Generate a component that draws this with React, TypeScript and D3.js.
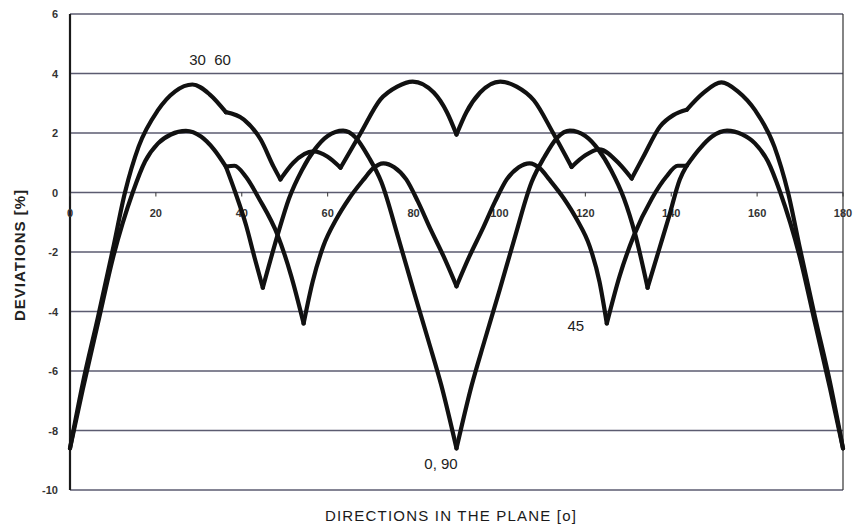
import React, { useEffect, useRef } from "react";
import * as d3 from "d3";

const xTicks = [0, 20, 40, 60, 80, 100, 120, 140, 160, 180];
const yTicks = [6, 4, 2, 0, -2, -4, -6, -8, -10];

// curves are stored as arches [deg, %] split at cusps / kinks
const curve3060 = [
  [[0, -8.6], [3, -6.4], [6.5, -4.2], [10, -1.9], [12.8, 0], [16, 1.55], [20.4, 2.75], [24.5, 3.4], [28.5, 3.63], [32.5, 3.3], [36.3, 2.7]],
  [[36.3, 2.7], [40.5, 2.45], [44.4, 1.78], [47.4, 0.87], [49, 0.44]],
  [[49, 0.44], [52, 1.0], [56.7, 1.38], [60, 1.2], [63, 0.83]],
  [[63, 0.83], [67.7, 2.0], [72.3, 3.13], [76.2, 3.56], [79.8, 3.73], [84.7, 3.36], [87.8, 2.69], [90, 1.95]],
  [[90, 1.95], [92.3, 2.7], [95.5, 3.36], [100.2, 3.73], [104, 3.56], [108, 3.1], [112.5, 2.0], [116.8, 0.86]],
  [[116.8, 0.86], [120, 1.25], [123.2, 1.45], [128, 0.95], [130.8, 0.47]],
  [[130.8, 0.47], [133.5, 1.2], [137.4, 2.22], [140.5, 2.6], [143.6, 2.78]],
  [[143.6, 2.78], [147.5, 3.35], [151.7, 3.7], [155.5, 3.4], [159.6, 2.75], [164, 1.55], [167.2, 0], [170, -1.9], [173.5, -4.2], [177, -6.4], [180, -8.6]],
];

const curve0090 = [
  [[0, -8.6], [3, -6.6], [6.5, -4.4], [10, -2.2], [14.6, 0], [17.5, 1.05], [20.5, 1.65], [23.5, 1.95], [27, 2.07], [30.5, 1.88], [33.5, 1.45], [36.3, 0.87]],
  [[36.3, 0.87], [38.5, 0.0], [41, -1.1], [43, -2.2], [44.9, -3.2]],
  [[44.9, -3.2], [48.4, -1.4], [51, -0.2], [54, 0.75], [57, 1.45], [60, 1.9], [63.6, 2.08], [66.5, 1.85], [69.5, 1.2], [72.5, 0.35], [76.5, -1.55], [80, -3.3], [83.5, -5.0], [86.5, -6.5], [90, -8.6]],
  [[90, -8.6], [93.5, -6.5], [96.5, -5.0], [100, -3.3], [103.5, -1.55], [107.5, 0.35], [110.5, 1.2], [113.5, 1.85], [116.4, 2.08], [120, 1.9], [123, 1.45], [126, 0.75], [129, -0.2], [131.6, -1.4], [134.5, -3.2]],
  [[134.5, -3.2], [137, -2.0], [139.5, -0.8], [142, 0.44], [143.6, 0.9]],
  [[143.6, 0.9], [146.5, 1.45], [149.5, 1.88], [153, 2.08], [156.5, 1.95], [159.5, 1.65], [162.5, 1.05], [165.4, 0], [170, -2.2], [173.5, -4.4], [177, -6.6], [180, -8.6]],
];

// the 45 curve follows the 0,90 curve outside 36..144
const curve45 = [
  [[36.3, 0.87], [38.3, 0.9], [41, 0.52], [44, -0.2], [48.4, -1.45], [51.5, -2.8], [54.4, -4.4]],
  [[54.4, -4.4], [56.5, -3.0], [59, -1.8], [62, -0.9], [65, -0.2], [68.4, 0.44], [70.5, 0.8], [73, 0.98], [75.5, 0.85], [78.3, 0.44], [81, -0.3], [84, -1.25], [87, -2.15], [90, -3.15]],
  [[90, -3.15], [93, -2.15], [96, -1.25], [99, -0.3], [101.7, 0.44], [104.5, 0.85], [107, 0.98], [109.5, 0.8], [111.6, 0.44], [115, -0.2], [118, -0.9], [121, -1.8], [123.3, -3.0], [125, -4.4]],
  [[125, -4.4], [128, -2.8], [131.3, -1.45], [135.5, -0.2], [138.8, 0.52], [141.5, 0.9], [143.6, 0.9]],
];

const curveNames = ["30  60", "45", "0, 90"];
const labelDeg = [32.6, 117.8, 86.4];
const labelVal = [4.44, -4.5, -9.14];

const App = () => {
  const svgRef = useRef(null);

  useEffect(() => {
    const svg = d3.select(svgRef.current);
    svg.selectAll("*").remove();

    const x = d3.scaleLinear().domain([0, 180]).range([70, 843]);
    const y = d3.scaleLinear().domain([-10, 6]).range([490, 14]);
    const font = "'Liberation Sans', Arial, sans-serif";

    // horizontal grid
    svg
      .append("g")
      .selectAll("line")
      .data(yTicks)
      .enter()
      .append("line")
      .attr("x1", x(0))
      .attr("x2", x(180))
      .attr("y1", (d) => y(d))
      .attr("y2", (d) => y(d))
      .attr("stroke", "#3f3f58")
      .attr("stroke-width", 1.4)
      .attr("opacity", 0.85);

    // right border and left axis
    svg
      .append("line")
      .attr("x1", x(180))
      .attr("x2", x(180))
      .attr("y1", y(6))
      .attr("y2", y(-10))
      .attr("stroke", "#333")
      .attr("stroke-width", 1.2);
    svg
      .append("line")
      .attr("x1", x(0))
      .attr("x2", x(0))
      .attr("y1", y(6))
      .attr("y2", y(-10))
      .attr("stroke", "#1a1a1a")
      .attr("stroke-width", 2.2);

    // y tick labels
    svg
      .append("g")
      .selectAll("text")
      .data(yTicks)
      .enter()
      .append("text")
      .attr("x", 58)
      .attr("y", (d) => y(d) + 4)
      .attr("text-anchor", "end")
      .attr("font-family", font)
      .attr("font-size", 11)
      .attr("font-weight", "bold")
      .attr("fill", "#333")
      .text((d) => d);

    // x ticks on the zero line
    svg
      .append("g")
      .selectAll("line")
      .data(xTicks)
      .enter()
      .append("line")
      .attr("x1", (d) => x(d))
      .attr("x2", (d) => x(d))
      .attr("y1", y(0))
      .attr("y2", y(0) + 4)
      .attr("stroke", "#333")
      .attr("stroke-width", 1);

    svg
      .append("g")
      .selectAll("text")
      .data(xTicks)
      .enter()
      .append("text")
      .attr("x", (d) => x(d))
      .attr("y", y(0) + 24)
      .attr("text-anchor", "middle")
      .attr("font-family", font)
      .attr("font-size", 11)
      .attr("font-weight", "bold")
      .attr("fill", "#333")
      .text((d) => d);

    // curves
    const line = d3
      .line()
      .x((d) => x(d[0]))
      .y((d) => y(d[1]))
      .curve(d3.curveMonotoneX);

    [curve3060, curve0090, curve45].forEach((curve) => {
      svg
        .append("g")
        .selectAll("path")
        .data(curve)
        .enter()
        .append("path")
        .attr("d", (d) => line(d))
        .attr("fill", "none")
        .attr("stroke", "#111")
        .attr("stroke-width", 4.2)
        .attr("stroke-linejoin", "round")
        .attr("stroke-linecap", "round");
    });

    // curve labels
    svg
      .append("g")
      .selectAll("text")
      .data(curveNames)
      .enter()
      .append("text")
      .attr("x", (d, i) => x(labelDeg[i]))
      .attr("y", (d, i) => y(labelVal[i]) + 5)
      .attr("text-anchor", "middle")
      .attr("font-family", font)
      .attr("font-size", 15)
      .attr("fill", "#222")
      .style("white-space", "pre")
      .text((d) => d);

    // axis titles
    svg
      .append("text")
      .attr("x", 451)
      .attr("y", 521)
      .attr("text-anchor", "middle")
      .attr("font-family", font)
      .attr("font-size", 15)
      .attr("letter-spacing", 1.2)
      .attr("fill", "#1a1a1a")
      .text("DIRECTIONS IN THE PLANE [o]");

    svg
      .append("text")
      .attr("transform", "translate(25,255) rotate(-90)")
      .attr("text-anchor", "middle")
      .attr("font-family", font)
      .attr("font-size", 15)
      .attr("font-weight", "bold")
      .attr("letter-spacing", 1)
      .attr("fill", "#222")
      .text("DEVIATIONS [%]");
  }, []);

  return (
    <svg
      ref={svgRef}
      width={856}
      height={532}
      style={{ position: "fixed", left: 0, top: 0, background: "#fff" }}
    ></svg>
  );
};

export default App;
